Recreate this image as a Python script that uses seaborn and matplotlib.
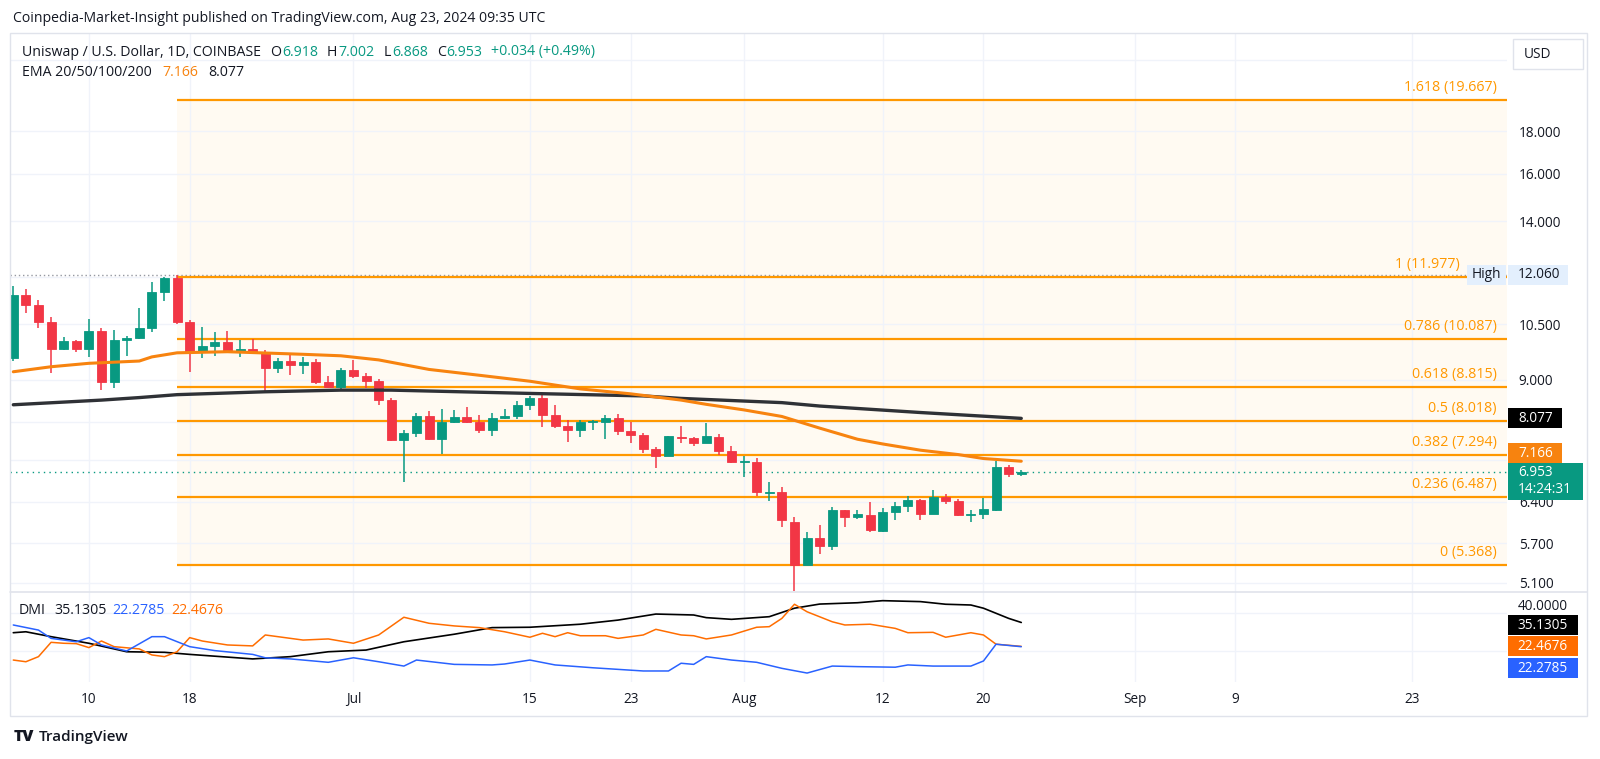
import matplotlib
matplotlib.use("Agg")
import matplotlib.pyplot as plt
from matplotlib.patches import Rectangle
from matplotlib.ticker import NullLocator
import pandas as pd
import seaborn as sns

# ---- data ----
start_date = "2024-06-04"

opens = [9.55, 11.41, 11.10, 10.56, 9.80, 10.02, 9.80, 10.32, 8.95, 10.04,
         10.12, 10.40, 11.49, 11.94, 10.56, 9.71, 9.90, 10.00, 9.76, 9.80,
         9.73, 9.30, 9.48, 9.37, 9.46, 8.94, 8.81, 9.25, 9.10, 8.97,
         8.50, 7.60, 7.75, 8.12, 7.63, 8.00, 8.11, 7.99, 7.82, 8.08,
         8.12, 8.39, 8.56, 8.15, 7.90, 7.82, 7.99, 8.00, 8.08, 7.80,
         7.70, 7.41, 7.28, 7.67, 7.65, 7.53, 7.67, 7.37, 7.15, 7.16,
         6.56, 6.58, 6.05, 5.37, 5.78, 5.66, 6.25, 6.14, 6.17, 5.89,
         6.22, 6.33, 6.43, 6.19, 6.48, 6.42, 6.17, 6.18, 6.26, 7.06,
         6.918]
highs = [11.70, 11.59, 11.24, 10.71, 10.15, 10.04, 10.66, 10.39, 10.33, 10.17,
         11.00, 11.83, 12.00, 12.06, 10.63, 10.42, 10.28, 10.30, 10.06, 10.08,
         9.78, 9.56, 9.67, 9.60, 9.53, 9.09, 9.30, 9.51, 9.17, 9.02,
         8.56, 7.82, 8.20, 8.24, 8.29, 8.27, 8.33, 8.15, 8.21, 8.28,
         8.47, 8.59, 8.66, 8.39, 8.04, 8.04, 8.04, 8.15, 8.17, 7.99,
         7.75, 7.46, 7.69, 7.91, 7.67, 7.97, 7.74, 7.47, 7.27, 7.23,
         6.76, 6.67, 6.13, 5.88, 6.00, 6.30, 6.26, 6.25, 6.39, 6.28,
         6.39, 6.50, 6.45, 6.61, 6.54, 6.45, 6.25, 6.46, 7.17, 7.10,
         7.002]
lows = [9.49, 10.83, 10.39, 9.17, 9.78, 9.71, 9.60, 8.74, 8.78, 9.62,
        10.08, 10.29, 11.20, 10.52, 9.20, 9.56, 9.62, 9.69, 9.60, 9.71,
        8.70, 9.17, 9.12, 9.14, 8.90, 8.78, 8.76, 9.05, 8.80, 8.38,
        7.58, 6.76, 7.66, 7.60, 7.31, 7.97, 7.98, 7.76, 7.68, 8.06,
        8.06, 8.27, 7.88, 7.86, 7.56, 7.66, 7.82, 7.62, 7.72, 7.55,
        7.33, 7.03, 7.28, 7.55, 7.47, 7.53, 7.29, 7.14, 6.86, 6.50,
        6.42, 5.97, 4.98, 5.37, 5.53, 5.59, 5.96, 6.09, 5.88, 5.88,
        6.08, 6.22, 6.08, 6.19, 6.35, 6.15, 6.04, 6.10, 6.24, 6.85,
        6.868]
closes = [11.41, 11.10, 10.56, 9.80, 10.02, 9.80, 10.32, 8.95, 10.04, 10.12,
          10.40, 11.49, 11.94, 10.56, 9.71, 9.90, 10.00, 9.71, 9.80, 9.73,
          9.30, 9.48, 9.37, 9.46, 8.94, 8.81, 9.25, 9.10, 8.97, 8.50,
          7.60, 7.75, 8.12, 7.63, 8.00, 8.11, 7.99, 7.82, 8.08, 8.13,
          8.39, 8.56, 8.15, 7.90, 7.82, 7.99, 8.01, 8.08, 7.80, 7.70,
          7.41, 7.28, 7.68, 7.65, 7.53, 7.68, 7.37, 7.16, 7.16, 6.57,
          6.58, 6.08, 5.37, 5.78, 5.66, 6.26, 6.14, 6.18, 5.91, 6.22,
          6.33, 6.43, 6.19, 6.48, 6.42, 6.17, 6.18, 6.27, 7.06, 6.918,
          6.953]

# EMA lines (day offset from start, value)
ema_fast_days = [0, 3, 6, 10, 11, 13, 17, 23, 26, 29, 33, 37, 41, 45, 49, 53,
                 55, 58, 61, 64, 67, 69, 72, 75, 77, 80]
ema_fast = [9.20, 9.33, 9.42, 9.48, 9.59, 9.70, 9.73, 9.66, 9.62, 9.51, 9.26,
            9.11, 8.96, 8.77, 8.65, 8.50, 8.40, 8.27, 8.12, 7.86, 7.62,
            7.52, 7.39, 7.30, 7.22, 7.166]
ema_slow_days = [0, 7, 10, 13, 20, 26, 30, 41, 50, 53, 61, 64, 72, 80]
ema_slow = [8.39, 8.50, 8.56, 8.63, 8.70, 8.74, 8.74, 8.66, 8.60, 8.54, 8.44,
            8.36, 8.21, 8.077]

fib_ratios = ["1.618", "1", "0.786", "0.618", "0.5", "0.382", "0.236", "0"]
fib_prices = [19.667, 11.977, 10.087, 8.815, 8.018, 7.294, 6.487, 5.368]
fib_start_day = 13

# DMI
adx_days = [0, 1, 3, 6, 9, 12, 14, 19, 22, 25, 28, 31, 35, 38, 41, 45, 48, 51,
            54, 55, 57, 60, 62, 64, 67, 69, 72, 74, 76, 77, 79, 80]
adx = [29.7, 30.2, 27.6, 24.1, 19.6, 19.3, 18.2, 15.8, 17.0, 19.6, 20.5, 24.9,
       28.9, 32.4, 32.6, 34.2, 36.4, 39.6, 39.1, 37.7, 36.8, 38.2, 42.7, 44.9,
       45.6, 46.7, 46.2, 44.8, 44.4, 42.7, 37.3, 35.1305]
minus_di_days = [0, 1, 2, 3, 4, 5, 6, 7, 8, 10, 11, 12, 13, 14, 15, 17, 19, 20,
                 21, 23, 25, 27, 29, 31, 33, 35, 37, 39, 41, 42, 43, 44, 45, 47,
                 48, 50, 51, 53, 54, 55, 57, 59, 60, 61, 62, 63, 65, 66, 68, 70,
                 71, 73, 74, 76, 77, 78, 80]
minus_di = [15.2, 14.3, 17.0, 24.6, 24.1, 23.9, 21.8, 25.3, 22.3, 21.1, 17.9,
            17.0, 19.6, 27.1, 25.3, 23.2, 22.7, 28.5, 27.6, 25.8, 26.4, 24.1,
            28.5, 37.9, 34.7, 33.3, 32.4, 30.2, 27.3, 29.4, 27.6, 29.7, 28.1,
            28.1, 26.7, 28.5, 31.5, 28.5, 28.1, 26.4, 28.5, 32.6, 32.9, 37.3,
            44.8, 40.8, 35.5, 33.8, 34.2, 32.0, 29.7, 29.9, 27.3, 29.7, 28.5,
            23.6, 22.4676]
plus_di_days = [0, 2, 3, 5, 6, 7, 9, 11, 12, 14, 16, 19, 20, 22, 25, 27, 29, 31,
                32, 35, 38, 39, 41, 43, 46, 50, 52, 53, 54, 55, 57, 59, 61, 63,
                65, 67, 70, 71, 73, 76, 77, 78, 80]
plus_di = [33.8, 31.1, 26.7, 24.9, 27.1, 23.2, 20.0, 27.6, 27.6, 22.3, 20.2,
           18.2, 16.4, 15.8, 14.0, 16.4, 14.3, 12.0, 15.2, 12.9, 12.6, 13.1,
           15.2, 12.6, 11.1, 9.4, 9.4, 13.5, 12.9, 17.0, 15.2, 14.0, 10.8, 8.3,
           12.0, 11.7, 11.4, 12.6, 12.0, 12.0, 14.7, 23.6, 22.2785]

price_ticks = [5.1, 5.7, 6.4, 7.2, 8.0, 9.0, 10.5, 12.0, 14.0, 16.0, 18.0, 22.0]
price_tick_labels = ["5.100", "5.700", "6.400", "", "", "9.000", "10.500", "",
                     "14.000", "16.000", "18.000", ""]
dmi_ticks = [20, 40]
date_ticks = ["2024-06-10", "2024-06-18", "2024-07-01", "2024-07-15", "2024-07-23",
              "2024-08-01", "2024-08-12", "2024-08-20", "2024-09-01", "2024-09-09",
              "2024-09-23"]
date_tick_labels = ["10", "18", "Jul", "15", "23", "Aug", "12", "20", "Sep", "9", "23"]

# ---- style ----
sns.set_theme(style="white")
plt.rcParams["font.family"] = ["Open Sans", "DejaVu Sans"]

GREEN = "#089981"
RED = "#f23645"
FIB = "#ff9800"
EMA_ORANGE = "#f7830f"
DMI_ORANGE = "#ff6d00"
DMI_BLUE = "#2962ff"
TEXT = "#131722"
GRID = "#f0f3fa"
FRAME = "#e0e3eb"
AXIS_FS = 9.8
LEGEND_FS = 10.2

W, H = 1600, 759
fig = plt.figure(figsize=(W / 100, H / 100), dpi=100)
fig.patch.set_facecolor("white")


def fx(px):
    return px / W


def fy(py):
    return 1 - py / H


ax = fig.add_axes([fx(10), fy(592), fx(1507) - fx(10), fy(33) - fy(592)])
ax2 = fig.add_axes([fx(10), fy(682), fx(1507) - fx(10), fy(592) - fy(682)], sharex=ax)

start = pd.Timestamp(start_date)
dates = pd.date_range(start, periods=len(opens), freq="D")
x_left = start + pd.Timedelta(days=-0.26)
x_right = start + pd.Timedelta(days=118.55)

df = pd.DataFrame({"date": dates, "open": opens, "high": highs,
                   "low": lows, "close": closes})
df["up"] = df["close"] >= df["open"]
df["color"] = df["up"].map({True: GREEN, False: RED})
df["bottom"] = df[["open", "close"]].min(axis=1)
df["height"] = (df["close"] - df["open"]).abs().clip(lower=df["close"] * 0.003)

ax.set_yscale("log")

# fib retracement block
fib_x0 = start + pd.Timedelta(days=fib_start_day)
ax.fill_between([fib_x0, x_right], min(fib_prices), max(fib_prices),
                color="#fffaf2", zorder=0, lw=0)
ax.hlines(fib_prices, fib_x0, x_right, color=FIB, lw=1.6, zorder=2)
for r, p in zip(fib_ratios, fib_prices):
    # the "1" label sits next to the High tag, keep it clear of it
    xf = 0.9685 if r == "1" else 0.9933
    ax.annotate(f"{r} ({p:.3f})", xy=(xf, p), xycoords=("axes fraction", "data"),
                xytext=(0, 5), textcoords="offset pixels", ha="right", va="bottom",
                color=FIB, fontsize=10.3, zorder=3)

# reference dotted lines: session high and last price
ax.axhline(max(highs), color="#9598a1", lw=1, ls=(0, (1, 2)), zorder=1)
ax.axhline(closes[-1], color=GREEN, lw=1, ls=(0, (1, 3)), zorder=1)

# candles
ax.vlines(df["date"], df["low"], df["high"], colors=df["color"], lw=1.1, zorder=4)
ax.bar(df["date"], df["height"], bottom=df["bottom"], width=0.72,
       color=df["color"], edgecolor=df["color"], lw=0.6, zorder=5)

# EMAs
ema_fast_dates = start + pd.to_timedelta(ema_fast_days, unit="D")
ema_slow_dates = start + pd.to_timedelta(ema_slow_days, unit="D")
sns.lineplot(x=ema_slow_dates, y=ema_slow, ax=ax, color="#2f3136", lw=2.4, zorder=6)
sns.lineplot(x=ema_fast_dates, y=ema_fast, ax=ax, color=EMA_ORANGE, lw=2.2, zorder=6)

ax.set_xlim(x_left, x_right)
ax.set_ylim(4.973, 23.70)
ax.set_yticks(price_ticks)
ax.set_yticklabels(price_tick_labels)
ax.yaxis.set_minor_locator(NullLocator())
ax.yaxis.tick_right()
ax.tick_params(axis="y", length=0, pad=8.5, labelsize=AXIS_FS, labelcolor=TEXT)
ax.tick_params(axis="x", length=0, labelbottom=False)
ax.set_xticks(pd.to_datetime(date_ticks))
ax.grid(True, color=GRID, lw=1)
ax.set_axisbelow(True)
ax.set_xlabel("")
ax.set_ylabel("")

# DMI panel
sns.lineplot(x=start + pd.to_timedelta(adx_days, unit="D"), y=adx, ax=ax2,
             color="black", lw=1.2)
sns.lineplot(x=start + pd.to_timedelta(minus_di_days, unit="D"), y=minus_di, ax=ax2,
             color=DMI_ORANGE, lw=1.1)
sns.lineplot(x=start + pd.to_timedelta(plus_di_days, unit="D"), y=plus_di, ax=ax2,
             color=DMI_BLUE, lw=1.1)
ax2.set_ylim(3.55, 51.3)
ax2.set_yticks(dmi_ticks)
ax2.set_yticklabels(["", ""])
ax2.yaxis.tick_right()
ax2.tick_params(axis="y", length=0)
ax2.set_xticks(pd.to_datetime(date_ticks))
ax2.set_xticklabels(date_tick_labels)
ax2.tick_params(axis="x", length=0, pad=7, labelsize=AXIS_FS, labelcolor=TEXT)
ax2.grid(True, color=GRID, lw=1)
ax2.set_axisbelow(True)
ax2.set_xlabel("")
ax2.set_ylabel("")
ax2.set_xlim(x_left, x_right)

for a in (ax, ax2):
    for s in a.spines.values():
        s.set_visible(False)

# frame and separators
fig.add_artist(Rectangle((fx(10), fy(716)), 1577 / W, (716 - 33) / H,
                         transform=fig.transFigure, fill=False, ec=FRAME, lw=1))
fig.add_artist(plt.Line2D([fx(10), fx(1587)], [fy(592), fy(592)],
                          transform=fig.transFigure, color=FRAME, lw=1.2))


def value_py(a, value):
    return H - a.transData.transform((a.get_xlim()[0], value))[1]


def tag(a, value, label, face, tcolor, dy=0, x0=1508, width=54, height=20, tx=10):
    cy = value_py(a, value) + dy
    fig.add_artist(Rectangle((fx(x0), fy(cy + height / 2)), width / W, height / H,
                             transform=fig.transFigure, fc=face, ec="none", zorder=5))
    fig.text(fx(x0 + tx), fy(cy), label, color=tcolor, ha="left", va="center",
             fontsize=AXIS_FS, zorder=6)


# right axis tags
tag(ax, max(highs), "12.060", "#e3effd", TEXT, width=60)
fig.add_artist(Rectangle((fx(1467), fy(value_py(ax, max(highs)) + 10)), 39 / W, 20 / H,
                         transform=fig.transFigure, fc="#e3effd", ec="none", zorder=5))
fig.text(fx(1472), fy(value_py(ax, max(highs))), "High", color=TEXT, ha="left",
         va="center", fontsize=AXIS_FS, zorder=6)
tag(ax, ema_slow[-1], f"{ema_slow[-1]:.3f}", "black", "white")
tag(ax, ema_fast[-1], f"{ema_fast[-1]:.3f}", EMA_ORANGE, "white", dy=-8)
cy = value_py(ax, closes[-1])
fig.add_artist(Rectangle((fx(1508), fy(cy + 28)), 75 / W, 37 / H,
                         transform=fig.transFigure, fc=GREEN, ec="none", zorder=5))
fig.text(fx(1518), fy(cy), f"{closes[-1]:.3f}", color="white", ha="left",
         va="center", fontsize=AXIS_FS, zorder=6)
fig.text(fx(1518), fy(cy + 17), "14:24:31", color="white", ha="left",
         va="center", fontsize=AXIS_FS, zorder=6)

# DMI scale label sits just above the ADX tag (it is half hidden in the original)
fig.text(fx(1518), fy(value_py(ax2, dmi_ticks[1]) - 7), "40.0000", color=TEXT,
         ha="left", va="center", fontsize=AXIS_FS, zorder=4)
tag(ax2, adx[-1], f"{adx[-1]:.4f}", "black", "white", dy=3, width=70, tx=9)
tag(ax2, minus_di[-1], f"{minus_di[-1]:.4f}", DMI_ORANGE, "white", width=70, tx=9)
tag(ax2, plus_di[-1], f"{plus_di[-1]:.4f}", DMI_BLUE, "white", dy=21.7, width=70, tx=9)

# USD box
fig.add_artist(Rectangle((fx(1513), fy(69)), 70 / W, 30 / H, transform=fig.transFigure,
                         fc="white", ec=FRAME, lw=1, zorder=5))
fig.text(fx(1524), fy(54), "USD", color=TEXT, ha="left", va="center",
         fontsize=AXIS_FS, zorder=6)

# header and legends
renderer = fig.canvas.get_renderer()


def text_run(x_px, y_px, pieces, size=LEGEND_FS):
    for txt, color, gap in pieces:
        x_px += gap
        t = fig.text(fx(x_px), fy(y_px), txt, color=color, fontsize=size,
                     ha="left", va="center", zorder=6)
        x_px += t.get_window_extent(renderer=renderer).width


fig.text(fx(13), fy(18), "Coinpedia-Market-Insight published on TradingView.com, "
         "Aug 23, 2024 09:35 UTC", color=TEXT, fontsize=10.1, ha="left", va="center")
text_run(22, 52, [("Uniswap / U.S. Dollar, 1D, COINBASE", TEXT, 0),
                  ("O", TEXT, 9), (f"{opens[-1]:.3f}", GREEN, 1),
                  ("H", TEXT, 9), (f"{highs[-1]:.3f}", GREEN, 1),
                  ("L", TEXT, 9), (f"{lows[-1]:.3f}", GREEN, 1),
                  ("C", TEXT, 9), (f"{closes[-1]:.3f}", GREEN, 1),
                  ("+0.034 (+0.49%)", GREEN, 8)])
text_run(22, 73, [("EMA 20/50/100/200", TEXT, 0),
                  (f"{ema_fast[-1]:.3f}", EMA_ORANGE, 11),
                  (f"{ema_slow[-1]:.3f}", TEXT, 10)])
text_run(19, 611, [("DMI", TEXT, 0), (f"{adx[-1]:.4f}", TEXT, 8),
                   (f"{plus_di[-1]:.4f}", DMI_BLUE, 6),
                   (f"{minus_di[-1]:.4f}", DMI_ORANGE, 6)])

# footer logo
fig.text(fx(14), fy(737), "TV", color=TEXT, fontsize=11.5, fontweight="heavy",
         ha="left", va="center")
fig.text(fx(39), fy(737), "TradingView", color=TEXT, fontsize=11,
         fontweight="semibold", ha="left", va="center")

fig.savefig("out.png", dpi=100)
